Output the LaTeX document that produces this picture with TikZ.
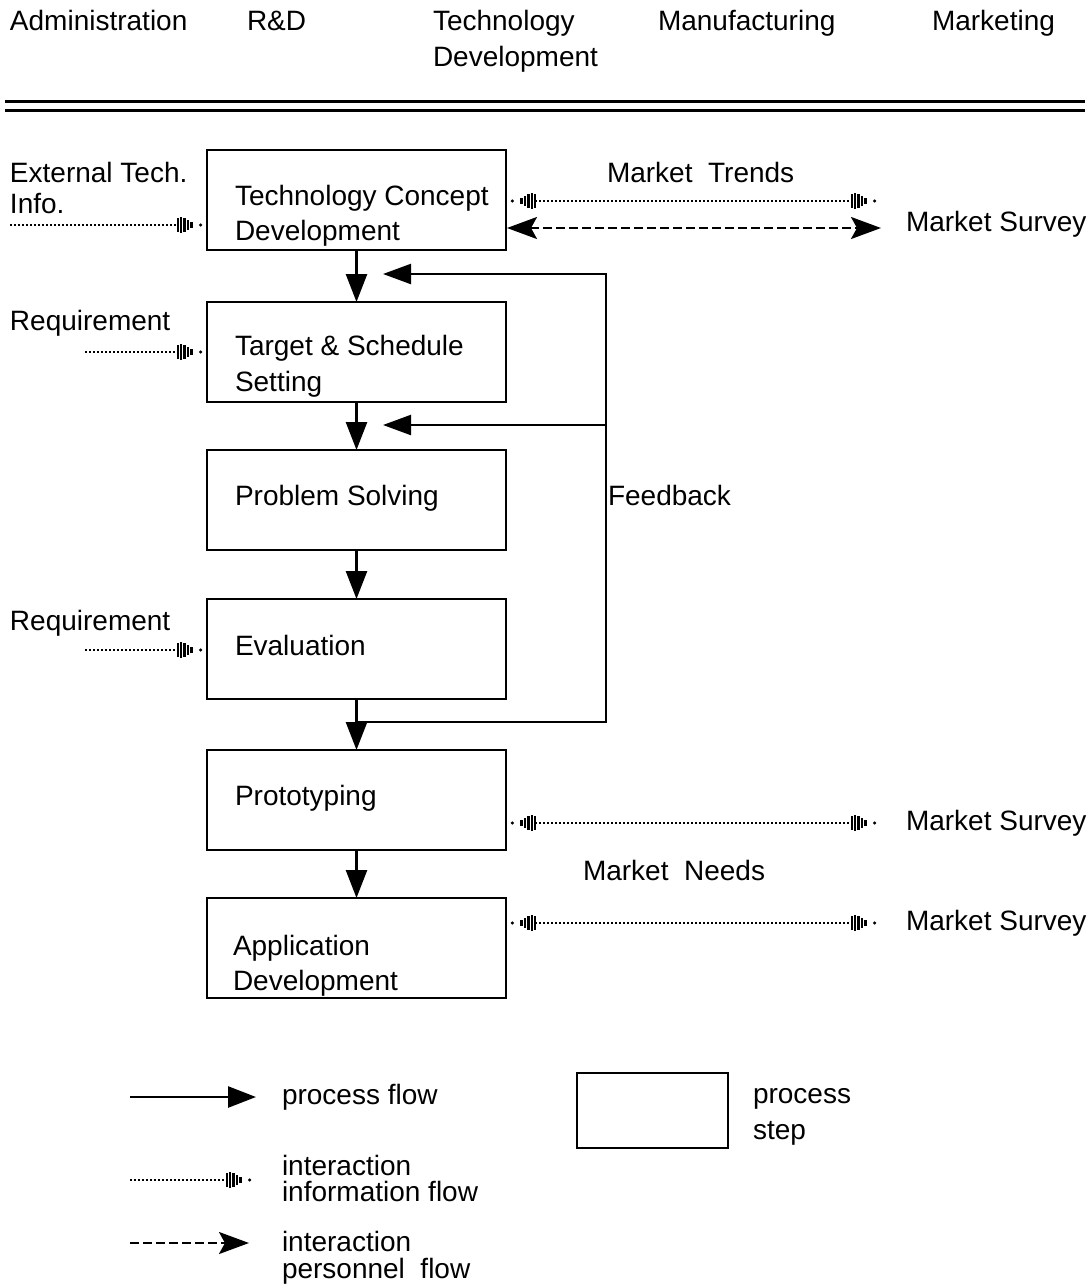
\documentclass[tikz,border=0pt]{standalone}
\usepackage{fontspec}
\setmainfont{Liberation Sans}
\usetikzlibrary{arrows.meta}

% Tapered "bar" tip used for information flows
\pgfdeclarearrow{
  name = InfoTip,
  setup code = {
    \pgfarrowssettipend{0pt}
    \pgfarrowssetlineend{-13.5pt}
    \pgfarrowssetbackend{-14pt}
    \pgfarrowshullpoint{0pt}{0pt}
    \pgfarrowsupperhullpoint{-14pt}{4pt}
  },
  drawing code = {
    \pgfsetdash{}{0pt}
    \pgfsetlinewidth{1.2pt}
    \pgfsetbuttcap
    \pgfpathmoveto{\pgfqpoint{-13.6pt}{-3.6pt}}\pgfpathlineto{\pgfqpoint{-13.6pt}{3.6pt}}
    \pgfpathmoveto{\pgfqpoint{-11.9pt}{-4.0pt}}\pgfpathlineto{\pgfqpoint{-11.9pt}{4.0pt}}
    \pgfpathmoveto{\pgfqpoint{-10.2pt}{-3.6pt}}\pgfpathlineto{\pgfqpoint{-10.2pt}{3.6pt}}
    \pgfpathmoveto{\pgfqpoint{-8.4pt}{-2.5pt}}\pgfpathlineto{\pgfqpoint{-8.4pt}{2.5pt}}
    \pgfpathmoveto{\pgfqpoint{-6.7pt}{-1.5pt}}\pgfpathlineto{\pgfqpoint{-6.7pt}{1.5pt}}
    \pgfusepathqstroke
    \pgfpathcircle{\pgfqpoint{-2.2pt}{0pt}}{0.85pt}
    \pgfusepathqfill
  }
}

\tikzset{
  PersTip/.tip={Stealth[length=15pt,width=11pt,inset=3pt,fill=black]},
  FlowTip/.tip={Triangle[length=14pt,width=10.5pt]},
  stepbox/.style={draw, line width=1.3pt, minimum width=149.5pt, minimum height=50pt,
    inner sep=0pt, outer sep=0pt},
  txt/.style={anchor=base west, inner sep=0pt, outer sep=0pt},
  procflow/.style={line width=1.3pt, -{FlowTip}},
  fbflow/.style={line width=1.1pt, -{Triangle[length=14pt,width=10pt]}},
  infoflow/.style={line width=0.9pt, dash pattern=on 0.9pt off 1.1pt},
  persflow/.style={line width=1.1pt, dash pattern=on 4.5pt off 2pt},
}

\begin{document}
\begin{tikzpicture}[x=0.5pt, y=-0.5pt, font=\fontsize{14}{17}\selectfont]
\useasboundingbox (0,0) rectangle (1090,1285);

% department headings
\node[txt] (hAdm) at (10,31) {Administration};
\node[txt] (hRD) at (247,31) {R\&D};
\node[txt] (hTD1) at (433,31) {Technology};
\node[txt] (hTD2) at (433,66) {Development};
\node[txt] (hMan) at (658,31) {Manufacturing};
\node[txt] (hMkt) at (932,31) {Marketing};

% double rule under the headings
\draw[line width=1.5pt] (5,101) -- (1085,101);
\draw[line width=1.5pt] (5,110) -- (1085,110);

% process steps
\node[stepbox] (b1) at (356.5,200) {};
\node[stepbox] (b2) at (356.5,352) {};
\node[stepbox] (b3) at (356.5,500) {};
\node[stepbox] (b4) at (356.5,649) {};
\node[stepbox] (b5) at (356.5,800) {};
\node[stepbox] (b6) at (356.5,948) {};

\node[txt] (t1a) at (235,205) {Technology Concept};
\node[txt] (t1b) at (235,240) {Development};
\node[txt] (t2a) at (235,355) {Target \& Schedule};
\node[txt] (t2b) at (235,391) {Setting};
\node[txt] (t3) at (235,505) {Problem Solving};
\node[txt] (t4) at (235,655) {Evaluation};
\node[txt] (t5) at (235,805) {Prototyping};
\node[txt] (t6a) at (233,955) {Application};
\node[txt] (t6b) at (233,990) {Development};

% process flow
\draw[procflow] (b1.south) -- (b2.north);
\draw[procflow] (b2.south) -- (b3.north);
\draw[procflow] (b3.south) -- (b4.north);
\draw[procflow] (b4.south) -- (b5.north);
\draw[procflow] (b5.south) -- (b6.north);

% feedback loop
\path (b4.south) ++(0,23) coordinate (fbj);
\coordinate (fbc) at (606,722);
\coordinate (fbt1) at (383,274);
\coordinate (fbt2) at (383,425);
\draw[fbflow] (fbj) -- (fbc) |- (fbt1);
\draw[fbflow] (fbc |- fbt2) -- (fbt2);
\node[txt] (lFb) at (608,505) {Feedback};

% inputs on the left
\node[txt] (lExt1) at (10,182) {External Tech.};
\node[txt] (lExt2) at (10,213) {Info.};
\coordinate (ext) at (10,225);
\draw[infoflow, -{InfoTip}, shorten >=1pt] (ext) -- (ext -| b1.west);

\node[txt] (lReq1) at (10,330) {Requirement};
\coordinate (req1) at (85,352);
\draw[infoflow, -{InfoTip}, shorten >=1pt] (req1) -- (req1 -| b2.west);

\node[txt] (lReq2) at (10,630) {Requirement};
\coordinate (req2) at (85,650);
\draw[infoflow, -{InfoTip}, shorten >=1pt] (req2) -- (req2 -| b4.west);

% interactions with marketing
\node[txt] (lTrend) at (607,182) {Market\ \ Trends};
\coordinate (mtR) at (879,201);
\draw[infoflow, {InfoTip}-{InfoTip}, shorten <=1pt] (b1.east |- mtR) -- (mtR);
\coordinate (msR) at (881,228);
\draw[persflow, {PersTip}-{PersTip}, shorten <=0.5pt] (b1.east |- msR) -- (msR);
\node[txt] (lMs1) at (906,231) {Market Survey};

\coordinate (pR) at (879,823);
\draw[infoflow, {InfoTip}-{InfoTip}, shorten <=1pt] (b5.east |- pR) -- (pR);
\node[txt] (lMs2) at (906,830) {Market Survey};
\node[txt] (lNeeds) at (583,880) {Market\ \ Needs};

\coordinate (aR) at (879,923);
\draw[infoflow, {InfoTip}-{InfoTip}, shorten <=1pt] (b6.east |- aR) -- (aR);
\node[txt] (lMs3) at (906,930) {Market Survey};

% legend
\coordinate (lg1a) at (130,1097);
\coordinate (lg1b) at (256,1097);
\draw[procflow] (lg1a) -- (lg1b);
\node[txt] (lgT1) at (282,1104) {process flow};

\node[stepbox, minimum width=75.5pt, minimum height=37.5pt] (lgBox) at (652.5,1110.5) {};
\node[txt] (lgT2a) at (753,1103) {process};
\node[txt] (lgT2b) at (753,1139) {step};

\coordinate (lg2a) at (130,1180);
\coordinate (lg2b) at (254,1180);
\draw[infoflow, -{InfoTip}] (lg2a) -- (lg2b);
\node[txt] (lgT3a) at (282,1175) {interaction};
\node[txt] (lgT3b) at (282,1201) {information flow};

\coordinate (lg3a) at (130,1243);
\coordinate (lg3b) at (249,1243);
\draw[persflow, -{PersTip}] (lg3a) -- (lg3b);
\node[txt] (lgT4a) at (282,1251) {interaction};
\node[txt] (lgT4b) at (282,1278) {personnel\ \ flow};
\end{tikzpicture}
\end{document}
